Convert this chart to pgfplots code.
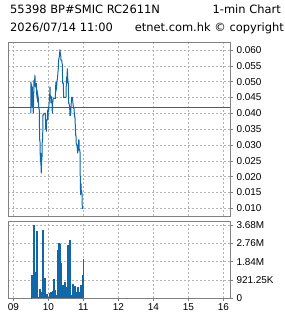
\documentclass[border=0pt]{standalone}
\usepackage{fontspec}
\setmainfont{Liberation Sans}
\newfontfamily\titlefont{DejaVu Sans}
\usepackage{pgfplots}
\pgfplotsset{compat=1.18}
\definecolor{pricec}{RGB}{16,104,168}
\definecolor{prevc}{RGB}{214,20,120}
\definecolor{gridc}{RGB}{180,180,180}
\definecolor{framec}{RGB}{128,128,128}
\pgfplotsset{
  chartbase/.style={
    scale only axis, width=222bp,
    xmin=-9.1, xmax=371.5,
    xtick={0,60,120,180,240,300,360},
    grid=major,
    major grid style={gridc, dash pattern=on 2bp off 2bp, line width=0.6bp},
    axis line style={framec, line width=0.9bp},
    tick style={framec, line width=0.6bp},
    tick align=outside, major tick length=3bp,
    ytick pos=right, yticklabel pos=right,
    ticklabel style={font=\fontsize{10}{12}\selectfont, text=black},
    scaled ticks=false,
    /pgf/number format/assume math mode=true,
  }
}
\begin{document}
\begin{tikzpicture}
\useasboundingbox (0,0) rectangle (285bp,318bp);
\node[anchor=base west, inner sep=0, font=\titlefont\fontsize{11.5}{14}\selectfont] at (10bp,304.7bp) {55398 BP\#SMIC RC2611N};
\node[anchor=base east, inner sep=0, font=\titlefont\fontsize{11.5}{14}\selectfont] at (281bp,304.7bp) {1-min Chart};
\node[anchor=base west, inner sep=0, font=\titlefont\fontsize{11.5}{14}\selectfont] at (10bp,286bp) {2026/07/14 11:00};
\node[anchor=base east, inner sep=0, font=\titlefont\fontsize{11.5}{14}\selectfont] at (284bp,286bp) {etnet.com.hk © copyright};

\begin{axis}[chartbase, at={(8bp,102bp)}, anchor=south west,
  height=173.3bp, ymin=0.00757, ymax=0.0623,
  ytick={0.010,0.015,0.020,0.025,0.030,0.035,0.040,0.045,0.050,0.055,0.060},
  yticklabels={0.010,0.015,0.020,0.025,0.030,0.035,0.040,0.045,0.050,0.055,0.060},
  xticklabels={}, xtick style={draw=none}]
\addplot[prevc, line width=1bp] coordinates {(-9.1,0.0419)(371.5,0.0419)};
\addplot[pricec, line width=1bp, mark=none] coordinates {
(30.3,0.0400)(30.3,0.0500)(30.9,0.0421)(31.4,0.0491)(32.0,0.0421)(32.6,0.0484)(33.1,0.0458)(33.7,0.0421)(34.3,0.0400)(34.9,0.0447)(35.4,0.0505)(36.0,0.0484)(36.6,0.0505)(37.1,0.0521)(37.7,0.0484)(38.3,0.0495)(38.9,0.0481)(39.4,0.0495)(40.0,0.0461)(41.1,0.0447)(41.7,0.0461)(42.9,0.0447)(43.4,0.0421)(44.6,0.0410)(45.1,0.0316)(45.7,0.0316)(46.3,0.0258)(46.9,0.0263)(48.0,0.0210)(48.6,0.0258)(49.1,0.0253)(49.7,0.0316)(50.3,0.0316)(50.9,0.0395)(52.0,0.0395)(52.6,0.0400)(53.7,0.0400)(54.9,0.0400)(55.4,0.0363)(56.0,0.0368)(56.6,0.0342)(57.1,0.0379)(57.7,0.0379)(58.3,0.0379)(58.9,0.0410)(59.4,0.0379)(60.0,0.0421)(60.6,0.0405)(61.1,0.0426)(62.3,0.0453)(62.9,0.0484)(63.4,0.0453)(64.0,0.0453)(64.6,0.0432)(65.1,0.0453)(66.3,0.0432)(66.9,0.0400)(67.4,0.0432)(68.6,0.0447)(69.7,0.0447)(70.9,0.0447)(72.0,0.0447)(72.6,0.0484)(73.1,0.0500)(74.3,0.0484)(74.9,0.0500)(76.0,0.0516)(77.1,0.0542)(77.7,0.0568)(78.9,0.0579)(80.0,0.0602)(80.6,0.0589)(81.1,0.0589)(81.7,0.0568)(82.9,0.0568)(84.0,0.0553)(84.6,0.0495)(85.7,0.0495)(86.3,0.0450)(87.4,0.0450)(89.1,0.0450)(90.3,0.0450)(90.9,0.0495)(91.4,0.0516)(92.0,0.0495)(92.6,0.0542)(93.7,0.0495)(94.3,0.0495)(94.9,0.0432)(95.4,0.0432)(96.6,0.0421)(97.1,0.0392)(97.7,0.0410)(98.3,0.0392)(98.9,0.0421)(100.0,0.0450)(101.1,0.0450)(101.7,0.0442)(102.9,0.0421)(103.4,0.0416)(104.0,0.0416)(105.1,0.0389)(105.7,0.0389)(106.9,0.0331)(107.4,0.0331)(108.0,0.0300)(109.1,0.0300)(109.7,0.0289)(110.3,0.0274)(110.9,0.0284)(111.4,0.0284)(112.0,0.0316)(112.6,0.0316)(113.1,0.0284)(114.3,0.0284)(114.9,0.0179)(115.4,0.0142)(116.0,0.0179)(116.6,0.0152)(117.7,0.0152)(118.3,0.0100)(119.4,0.0100)(120.0,0.0100)
};
\end{axis}

\begin{axis}[chartbase, at={(8bp,19.7bp)}, anchor=south west,
  height=77.3bp, ymin=0, ymax=3.897,
  ytick={0,0.92125,1.8425,2.76375,3.685},
  yticklabels={0,921.25K,1.84M,2.76M,3.68M},
  xticklabels={09,10,11,12,14,15,16}, xtick pos=bottom,
  xticklabel style={yshift=1bp}]
\addplot[ycomb, pricec, line width=1.1bp, mark=none] coordinates {
(30.9,0.03)(32.1,1.17)(33.8,0.92)(35.5,3.685)(37.7,1.34)(38.9,0.08)(40.6,3.38)(42.3,0.05)(45.8,0.45)(47.5,0.17)(49.2,0.34)(50.9,3.43)(52.6,0.84)(54.3,1.0)(56.1,0.08)(57.8,0.22)(59.5,0.05)(61.2,0.08)(62.9,0.28)(64.6,0.34)(66.3,0.17)(68.0,0.39)(69.8,0.95)(71.5,0.42)(73.2,0.17)(74.9,0.08)(76.6,2.43)(78.3,2.80)(80.0,2.76)(81.8,1.79)(83.5,0.39)(85.2,0.67)(86.9,0.37)(88.6,0.84)(90.3,0.17)(92.0,0.59)(93.8,2.68)(95.5,0.59)(97.2,2.93)(98.9,0.17)(100.6,0.08)(102.3,0.72)(104.0,0.42)(105.8,0.62)(107.5,0.34)(109.2,0.28)(110.9,0.59)(112.6,0.28)(114.3,0.34)(116.0,0.67)(117.7,0.59)(119.0,1.17)(120.0,1.96)
};
\end{axis}
\end{tikzpicture}
\end{document}
